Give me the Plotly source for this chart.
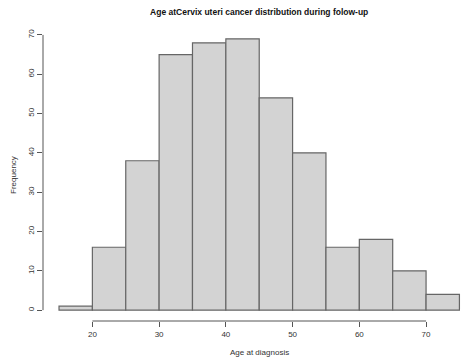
import plotly.graph_objects as go

bin_edges = [15, 20, 25, 30, 35, 40, 45, 50, 55, 60, 65, 70, 75]
counts = [1, 16, 38, 65, 68, 69, 54, 40, 16, 18, 10, 4]
x_ticks = [20, 30, 40, 50, 60, 70]
y_ticks = [0, 10, 20, 30, 40, 50, 60, 70]
title_text = "Age atCervix uteri cancer distribution during folow-up"
x_title = "Age at diagnosis"
y_title = "Frequency"

centers = [(a + b) / 2 for a, b in zip(bin_edges[:-1], bin_edges[1:])]
widths = [b - a for a, b in zip(bin_edges[:-1], bin_edges[1:])]

W, H = 462, 361
left, right, top, bottom = 42.6, 0, 28, 361 - 320.8
px_per_x = 6.68
x0 = 12.6
x1 = x0 + (W - left - right) / px_per_x
y0, y1 = -2.76, 71.76

fig = go.Figure()
fig.add_trace(go.Bar(
    x=centers, y=counts, width=widths,
    marker=dict(color="#D3D3D3", line=dict(color="#666666", width=1.2)),
    hoverinfo="skip",
))

axis_color = "#555555"
font = dict(family="Liberation Sans, Arial, sans-serif", color="#333333", size=8)

fig.update_layout(
    width=W, height=H,
    margin=dict(l=left, r=right, t=top, b=bottom, pad=0),
    plot_bgcolor="white", paper_bgcolor="white",
    showlegend=False, bargap=0,
    font=font,
    title=dict(text="<b>" + title_text + "</b>", x=(259 - left) / (W - left - right), xref="paper",
               xanchor="center", y=1 - 12 / H, yref="container", yanchor="middle",
               font=dict(size=8.5, color="#111111", family="Liberation Sans, Arial, sans-serif")),
    xaxis=dict(range=[x0, x1], tickvals=x_ticks, ticktext=[str(v) for v in x_ticks],
               showgrid=False, zeroline=False, showline=False, automargin=False,
               ticks="outside", ticklen=5, tickwidth=1, tickcolor=axis_color,
               tickfont=dict(size=8, color="#333333")),
    yaxis=dict(range=[y0, y1], tickvals=y_ticks, ticktext=[str(v) for v in y_ticks],
               showgrid=False, zeroline=False, showline=False, automargin=False,
               ticks="outside", ticklen=5, tickwidth=1, tickcolor=axis_color,
               tickangle=-90, tickfont=dict(size=8, color="#333333")),
)

# R-style axis lines spanning only the tick range
fig.add_shape(type="line", xref="x", yref="paper", x0=min(x_ticks), x1=max(x_ticks), y0=0, y1=0,
              line=dict(color=axis_color, width=1))
fig.add_shape(type="line", xref="paper", yref="y", x0=0, x1=0, y0=min(y_ticks), y1=max(y_ticks),
              line=dict(color=axis_color, width=1))

fig.add_annotation(text=x_title, xref="paper", yref="paper",
                   x=(259 - left) / (W - left - right), y=-(352 - 320.8) / (320.8 - top),
                   xanchor="center", yanchor="middle", showarrow=False,
                   font=dict(size=8, color="#333333"))
fig.add_annotation(text=y_title, xref="paper", yref="paper",
                   x=-(left - 13) / (W - left - right), y=0.5, textangle=-90,
                   xanchor="center", yanchor="middle", showarrow=False,
                   font=dict(size=8, color="#333333"))

fig.write_html("out.html", config={"displayModeBar": False, "staticPlot": True},
               post_script="document.body.style.margin='0';document.body.style.overflow='hidden';")
